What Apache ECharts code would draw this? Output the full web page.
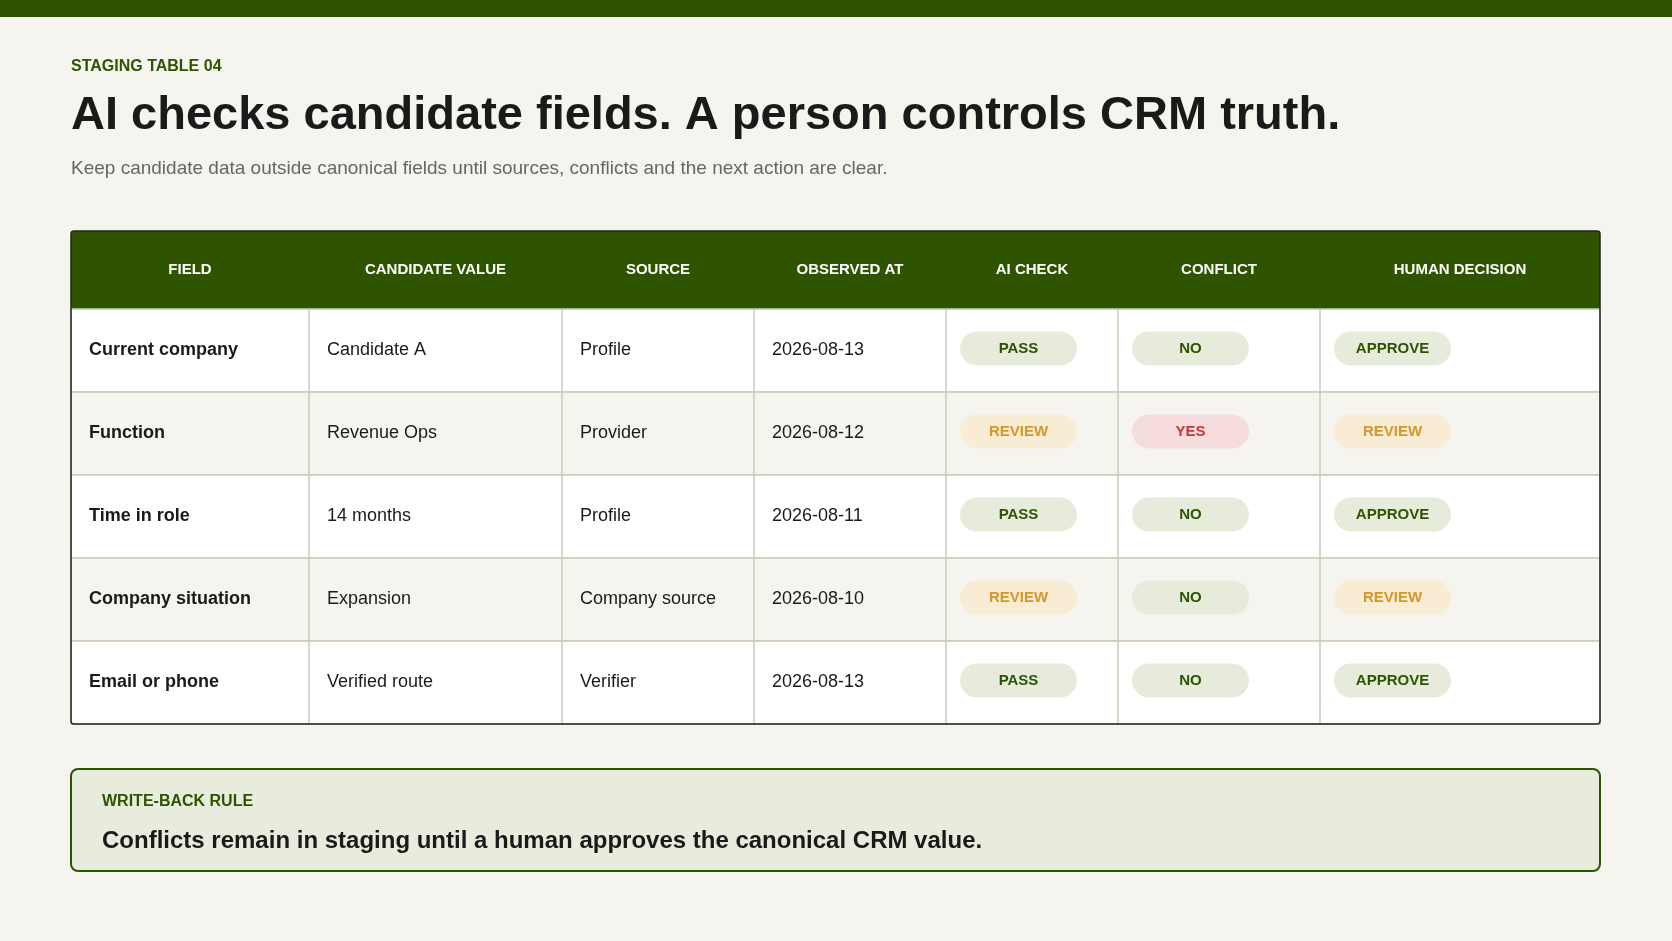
<!DOCTYPE html>
<html>
<head>
<meta charset="utf-8">
<script src="https://cdn.jsdelivr.net/npm/echarts@6/dist/echarts.min.js"></script>
<style>
  html, body { margin: 0; padding: 0; background: #f5f4ef; }
  #chart { width: 1672px; height: 941px; }
</style>
</head>
<body>
<div id="chart"></div>
<script>
// table content
var headers = ["FIELD", "CANDIDATE VALUE", "SOURCE", "OBSERVED AT", "AI CHECK", "CONFLICT", "HUMAN DECISION"];
var fields = ["Current company", "Function", "Time in role", "Company situation", "Email or phone"];
var candidateValues = ["Candidate A", "Revenue Ops", "14 months", "Expansion", "Verified route"];
var sources = ["Profile", "Provider", "Profile", "Company source", "Verifier"];
var observedAt = ["2026-08-13", "2026-08-12", "2026-08-11", "2026-08-10", "2026-08-13"];
var aiCheck = ["PASS", "REVIEW", "PASS", "REVIEW", "PASS"];
var conflict = ["NO", "YES", "NO", "NO", "NO"];
var humanDecision = ["APPROVE", "REVIEW", "APPROVE", "REVIEW", "APPROVE"];

var GREEN = "#2f5400";
var FONT = "Liberation Sans, Arial, sans-serif";
var colX = [71, 309, 562, 754, 946, 1118, 1320, 1600];
var tableTop = 231, headH = 78, rowH = 83;

var badgeStyle = {
    PASS: ["#e6ebdb", GREEN], NO: ["#e6ebdb", GREEN], APPROVE: ["#e6ebdb", GREEN],
    REVIEW: ["#f8ecd4", "#d4972a"], YES: ["#f6dcdc", "#c03a3a"]
};

var els = [];
els.push({ type: "rect", shape: { x: 0, y: 0, width: 1672, height: 17 }, style: { fill: GREEN } });
els.push({ type: "text", x: 71, y: 67, style: { text: "STAGING TABLE 04", font: "bold 16px " + FONT, fill: GREEN, verticalAlign: "middle" } });
els.push({ type: "text", x: 71, y: 116, style: { text: "AI checks candidate fields. A person controls CRM truth.", font: "bold 47px " + FONT, fill: "#1a1a1a", verticalAlign: "middle" } });
els.push({ type: "text", x: 71, y: 169, style: { text: "Keep candidate data outside canonical fields until sources, conflicts and the next action are clear.", font: "19px " + FONT, fill: "#666", verticalAlign: "middle" } });

// header
els.push({ type: "rect", shape: { x: colX[0], y: tableTop, width: colX[7] - colX[0], height: headH }, style: { fill: GREEN } });
headers.forEach(function (h, i) {
    els.push({ type: "text", x: (colX[i] + colX[i + 1]) / 2, y: tableTop + headH / 2, style: { text: h, font: "bold 15px " + FONT, fill: "#fff", align: "center", verticalAlign: "middle" } });
});

var rows = fields.map(function (f, r) {
    return [f, candidateValues[r], sources[r], observedAt[r], aiCheck[r], conflict[r], humanDecision[r]];
});
rows.forEach(function (row, r) {
    var y = tableTop + headH + r * rowH;
    els.push({ type: "rect", shape: { x: colX[0], y: y, width: colX[7] - colX[0], height: rowH }, style: { fill: r % 2 ? "#f5f4ef" : "#fff", stroke: "#c8cbb8", lineWidth: 1.5 } });
    row.forEach(function (v, c) {
        var cy = y + rowH / 2;
        if (c < 4) {
            els.push({ type: "text", x: colX[c] + 18, y: cy, style: { text: v, font: (c === 0 ? "bold " : "") + "18px " + FONT, fill: "#1a1a1a", verticalAlign: "middle" } });
        } else {
            var s = badgeStyle[v];
            var bx = colX[c] + 14;
            els.push({ type: "rect", shape: { x: bx, y: cy - 19, width: 117, height: 34, r: 17 }, style: { fill: s[0] } });
            els.push({ type: "text", x: bx + 58.5, y: cy - 2, style: { text: v, font: "bold 15px " + FONT, fill: s[1], align: "center", verticalAlign: "middle" } });
        }
    });
});
for (var c = 1; c < 7; c++) {
    els.push({ type: "line", shape: { x1: colX[c], y1: tableTop + headH, x2: colX[c], y2: tableTop + headH + 5 * rowH }, style: { stroke: "#c8cbb8", lineWidth: 1.5 } });
}
var tableBottom = tableTop + headH + 5 * rowH;
els.push({ type: "rect", shape: { x: colX[0], y: tableTop, width: colX[7] - colX[0], height: tableBottom - tableTop, r: 3 }, style: { fill: null, stroke: "#222", lineWidth: 1.5 } });

// rule box
els.push({ type: "rect", shape: { x: 71, y: 769, width: 1529, height: 102, r: 7 }, style: { fill: "#e8ecdc", stroke: GREEN, lineWidth: 2 } });
els.push({ type: "text", x: 102, y: 802, style: { text: "WRITE-BACK RULE", font: "bold 16px " + FONT, fill: GREEN, verticalAlign: "middle" } });
els.push({ type: "text", x: 102, y: 841, style: { text: "Conflicts remain in staging until a human approves the canonical CRM value.", font: "bold 24px " + FONT, fill: "#1a1a1a", verticalAlign: "middle" } });

var chart = echarts.init(document.getElementById("chart"));
chart.setOption({ backgroundColor: "#f5f4ef", graphic: { elements: els } });
</script>
</body>
</html>
